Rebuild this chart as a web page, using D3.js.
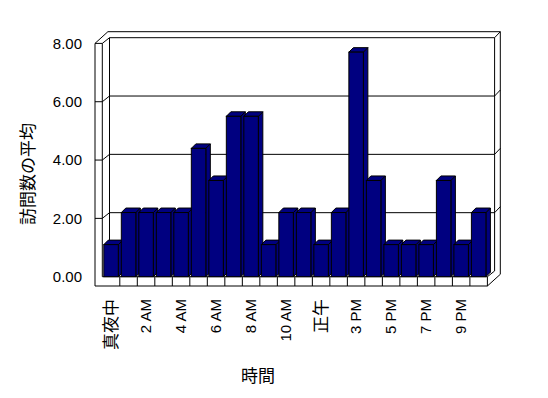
<!DOCTYPE html>
<html>
<head>
<meta charset="utf-8">
<script src="https://cdn.jsdelivr.net/npm/d3@7"></script>
<style>
  body { margin: 0; background: #fff; }
  svg { display: block; }
</style>
</head>
<body>
<svg id="chart" width="548" height="398"></svg>
<script>
// Chart data
const hours = ["真夜中", "1 AM", "2 AM", "3 AM", "4 AM", "5 AM", "6 AM", "7 AM", "8 AM", "9 AM",
  "10 AM", "11 AM", "正午", "1 PM", "3 PM", "4 PM", "5 PM", "6 PM", "7 PM", "8 PM", "9 PM", "10 PM"];
const visits = [1.1, 2.2, 2.2, 2.2, 2.2, 4.4, 3.3, 5.5, 5.5, 1.1, 2.2, 2.2,
  1.1, 2.2, 7.7, 3.3, 1.1, 1.1, 1.1, 3.3, 1.1, 2.2];
const yTicks = [0, 2, 4, 6, 8];
const yTitle = "訪問数の平均";
const xTitle = "時間";

let svg = d3.select("svg#chart");

// Layout of the 3D box
let wallLeft = 95;          // outer edge of left wall
let floorBottom = 286;      // bottom of floor slab
let depth = { "dx": 7.2, "dy": -5.7 };   // front -> back wall plane
let thick = { "dx": 5.7, "dy": -6 };     // back wall thickness
let barDepth = 4.5;
let barColor = "#000080";
let font = "'Liberation Sans', Arial, 'Noto Sans CJK JP', sans-serif";
let cjkFont = "'Noto Sans CJK JP', 'Noto Sans CJK SC', sans-serif";

const x = d3.scaleBand()
  .domain(hours)
  .range([102.3, 487.4])
  .padding(0)
;

const y = d3.scaleLinear()
  .domain([0, 8])
  .range([276.7, 43.4])
;

let x0 = x.range()[0];
let x1 = x.range()[1];
let yTop = y(8);
let yBase = y(0);

let frame = svg.append("g")
  .attr("fill", "none")
  .attr("stroke", "#000")
  .attr("stroke-width", 1);

function seg(pts) {
  frame.append("path")
    .attr("d", d3.line()(pts));
}

// back wall inner plane and top of box
seg([[x0 + depth.dx, yBase + depth.dy], [x0 + depth.dx, yTop + depth.dy], [x1 + depth.dx, yTop + depth.dy], [x1 + depth.dx, yBase + depth.dy]]);
seg([[wallLeft, yTop], [wallLeft + depth.dx + thick.dx, yTop + depth.dy + thick.dy],
     [x1 + depth.dx + thick.dx, yTop + depth.dy + thick.dy], [x1 + depth.dx + thick.dx, floorBottom + depth.dy + thick.dy]]);
seg([[x0, yTop], [x0 + depth.dx, yTop + depth.dy]]);
seg([[x1 + depth.dx, yTop + depth.dy], [x1 + depth.dx + thick.dx, yTop + depth.dy + thick.dy]]);

// left wall front face
seg([[wallLeft, floorBottom], [wallLeft, yTop], [x0, yTop], [x0, yBase]]);

// gridlines on back wall and ticks on the left wall
yTicks.filter(d => d > 0 && d < 8).forEach(v => {
  let yy = y(v);
  seg([[wallLeft, yy], [x0, yy], [x0 + depth.dx, yy + depth.dy], [x1 + depth.dx, yy + depth.dy],
       [x1 + depth.dx + thick.dx, yy + depth.dy + thick.dy]]);
});

// floor slab
seg([[x0, yBase], [x1, yBase], [x1, floorBottom], [wallLeft, floorBottom]]);
seg([[x1, yBase], [x1 + depth.dx, yBase + depth.dy]]);
seg([[x1, floorBottom], [x1 + depth.dx + thick.dx, floorBottom + depth.dy + thick.dy]]);
hours.forEach((d, i) => {
  if (i > 0) seg([[x(d), yBase], [x(d), floorBottom]]);
});

// 3D bars
let bars = svg.append("g")
  .attr("fill", barColor)
  .attr("stroke", "#000")
  .attr("stroke-width", 1)
  .attr("stroke-linejoin", "miter");

visits.forEach((v, i) => {
  let xf = x(hours[i]) + 1.5;
  let w = 14.5;
  let yt = y(v);
  let b = barDepth;
  bars.append("path")
    .attr("d", d3.line()([[xf + w, yt], [xf + w + b, yt - b], [xf + w + b, yBase - b], [xf + w, yBase]]) + "Z");
  bars.append("path")
    .attr("d", d3.line()([[xf, yt], [xf + b, yt - b], [xf + w + b, yt - b], [xf + w, yt]]) + "Z");
  bars.append("rect")
    .attr("x", xf)
    .attr("y", yt)
    .attr("width", w)
    .attr("height", yBase - yt);
});

// y axis labels
let leftAxis = d3.axisLeft(y).tickValues(yTicks).tickFormat(d3.format(".2f")).tickSize(0).tickPadding(13);
svg.append("g")
  .attr("transform", "translate(" + wallLeft + ",0)")
  .call(leftAxis)
  .call(g => g.select(".domain").remove())
  .selectAll("text")
  .attr("font-family", font)
  .attr("font-size", "15px")
  .attr("fill", "#000");

// x axis labels, every other hour, rotated
let bottomAxis = d3.axisBottom(x).tickValues(hours.filter((d, i) => i % 2 === 0)).tickSize(0);
svg.append("g")
  .attr("transform", "translate(0,299)")
  .call(bottomAxis)
  .call(g => g.select(".domain").remove())
  .selectAll("text")
  .attr("x", 0)
  .attr("y", 0)
  .attr("dy", "0.35em")
  .attr("transform", "rotate(-90)")
  .attr("text-anchor", "end")
  .attr("font-family", d => /[A-Z]/.test(d) ? font : cjkFont)
  .attr("font-size", d => /[A-Z]/.test(d) ? "15px" : "17px")
  .attr("fill", "#000");

// axis titles
svg.append("text")
  .attr("transform", "translate(28,174) rotate(-90)")
  .attr("text-anchor", "middle")
  .attr("dy", "0.35em")
  .attr("font-family", cjkFont)
  .attr("font-size", "17px")
  .text(yTitle);

svg.append("text")
  .attr("x", 258)
  .attr("y", 376)
  .attr("text-anchor", "middle")
  .attr("dy", "0.35em")
  .attr("font-family", cjkFont)
  .attr("font-size", "17px")
  .text(xTitle);
</script>
</body>
</html>
